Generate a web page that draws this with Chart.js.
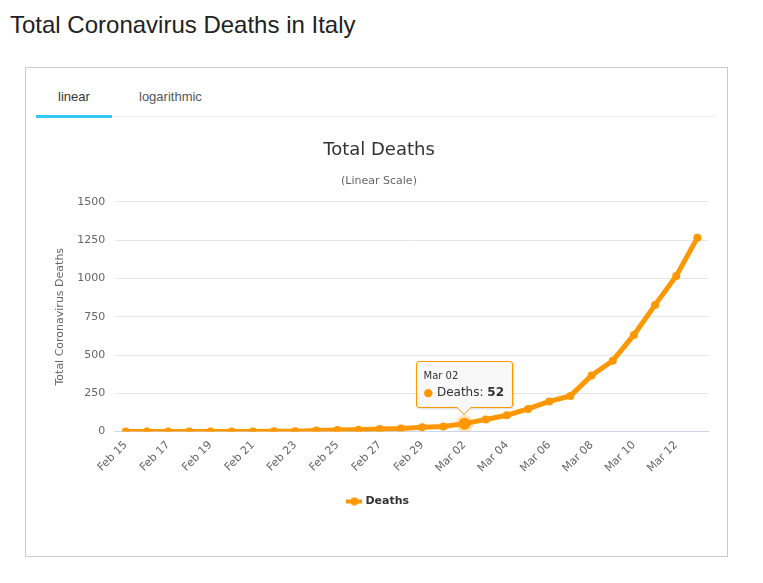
<!DOCTYPE html>
<html>
<head>
<meta charset="utf-8">
<script src="https://cdn.jsdelivr.net/npm/chart.js@4"></script>
<style>
  body { margin: 0; background: #fff; font-family: "Liberation Sans", Arial, sans-serif; }
  #pageTitle { position: absolute; left: 10px; top: 11px; font-size: 24px; line-height: 28px; color: #222; margin: 0; font-weight: normal; }
  #panel { position: absolute; left: 25px; top: 67px; width: 701px; height: 488px; border: 1px solid #ccc; }
  #tabs { position: absolute; left: 10px; top: 0; width: 680px; height: 48px; border-bottom: 1px solid #eee; }
  .tab { position: absolute; top: 21px; font-size: 13px; }
  #tabLinear { left: 0; width: 76px; text-align: center; color: #333; height: 26px; border-bottom: 3px solid #33c9f6; }
  #tabLog { left: 103px; color: #555; }
  #wrap { position: absolute; left: 36px; top: 125px; width: 680px; height: 405px; }
  #tip { position: absolute; pointer-events: none; background: rgba(247,247,247,0.92); border: 1px solid #ff9800;
         border-radius: 3px; padding: 8px 8px 8px 7px; font-family: "DejaVu Sans", sans-serif; color: #333;
         box-shadow: 1px 1px 2px rgba(0,0,0,0.15); white-space: nowrap; }
  #tip .t { font-size: 10px; margin-bottom: 4px; }
  #tip .b { font-size: 12px; }
  #tip .dot { color: #ff9800; font-size: 11px; }
  #tip:after, #tip:before { content: ""; position: absolute; left: 50%; border: solid transparent; }
  #tip:before { top: 100%; margin-left: -8px; border-width: 8px; border-top-color: #ff9800; }
  #tip:after { top: 100%; margin-left: -7px; border-width: 7px; border-top-color: #f7f7f7; }
</style>
</head>
<body>
<h1 id="pageTitle">Total Coronavirus Deaths in Italy</h1>
<div id="panel">
  <div id="tabs">
    <div class="tab" id="tabLinear">linear</div>
    <div class="tab" id="tabLog">logarithmic</div>
  </div>
</div>
<div id="wrap"><canvas id="myChart"></canvas><div id="tip" style="display:none"></div></div>
<script>
var dias = ['Feb 15','Feb 16','Feb 17','Feb 18','Feb 19','Feb 20','Feb 21','Feb 22','Feb 23','Feb 24',
            'Feb 25','Feb 26','Feb 27','Feb 28','Feb 29','Mar 01','Mar 02','Mar 03','Mar 04','Mar 05',
            'Mar 06','Mar 07','Mar 08','Mar 09','Mar 10','Mar 11','Mar 12','Mar 13']
var muertes = [0, 0, 0, 0, 0, 0, 1, 2, 3, 7, 10, 12, 17, 21, 29, 34, 52, 79, 107, 148, 197, 233, 366, 463, 631, 827, 1016, 1266]
var ticksY = [0, 250, 500, 750, 1000, 1250, 1500]
var puntoActivo = 16

var naranja = '#ff9800'
var fuente = '"DejaVu Sans", sans-serif'

// tooltip como html para poder poner el valor en negrita
const tooltipHtml = (context) => {
    var tip = document.getElementById('tip')
    var t = context.tooltip
    if (t.opacity === 0) { tip.style.display = 'none'; return }
    var p = t.dataPoints[0]
    tip.innerHTML = '<div class="t">' + p.label + '</div>' +
        '<div class="b"><span class="dot">\u25CF</span> Deaths: <b>' + p.raw + '</b></div>'
    tip.style.display = 'block'
    tip.style.left = (t.caretX - tip.offsetWidth / 2) + 'px'
    tip.style.top = (t.caretY - tip.offsetHeight - 16) + 'px'
}

// icono de la leyenda: linea con circulo
var icono = document.createElement('canvas')
icono.width = 16
icono.height = 10
var ic = icono.getContext('2d')
ic.fillStyle = naranja
ic.fillRect(0, 3, 16, 4)
ic.beginPath()
ic.arc(8, 5, 4, 0, Math.PI * 2)
ic.fill()

var ctx = document.getElementById('myChart')
var myChart = new Chart(ctx, {
    type: 'line',
    data: {
        labels: dias,
        datasets: [{
            label: 'Deaths',
            data: muertes,
            borderColor: naranja,
            backgroundColor: naranja,
            borderWidth: 5,
            pointRadius: 4,
            pointBackgroundColor: naranja,
            pointBorderWidth: 0,
            pointHoverRadius: 6,
            pointHoverBackgroundColor: naranja,
            pointHoverBorderColor: 'rgba(255,152,0,0.25)',
            pointHoverBorderWidth: 6,
            tension: 0
        }]
    },
    options: {
        responsive: true,
        maintainAspectRatio: false,
        animation: false,
        events: [],
        layout: { padding: { left: 14, right: 8, top: 0, bottom: 13 } },
        plugins: {
            title: {
                display: true, text: 'Total Deaths', color: '#333',
                font: { family: fuente, size: 18, weight: 'normal' },
                padding: { top: 15, bottom: 13 }
            },
            subtitle: {
                display: true, text: '(Linear Scale)', color: '#666',
                font: { family: fuente, size: 11 },
                padding: { bottom: 14 }
            },
            legend: {
                position: 'bottom',
                labels: {
                    color: '#333', usePointStyle: true, pointStyle: icono, padding: 14,
                    font: { family: fuente, size: 11, weight: 'bold' }
                }
            },
            tooltip: { enabled: false, external: tooltipHtml }
        },
        scales: {
            x: {
                offset: true,
                grid: { display: false, drawTicks: false },
                border: { color: '#ccd6eb' },
                ticks: {
                    autoSkip: false, maxRotation: 45, minRotation: 45, padding: 7,
                    color: '#666', font: { family: fuente, size: 11 },
                    callback: (v, i) => i % 2 === 0 ? dias[i] : ''
                }
            },
            y: {
                min: 0, max: 1500,
                afterBuildTicks: (axis) => { axis.ticks = ticksY.map(v => ({ value: v })) },
                grid: { color: '#e6e6e6', drawTicks: false },
                border: { display: false },
                ticks: { padding: 10, color: '#666', font: { family: fuente, size: 11 },
                         callback: (v) => String(v) },
                title: {
                    display: true, text: 'Total Coronavirus Deaths', color: '#666',
                    font: { family: fuente, size: 11 }, padding: { bottom: 0 }
                }
            }
        }
    }
})

var activos = [{ datasetIndex: 0, index: puntoActivo }]
myChart.setActiveElements(activos)
var pt = myChart.getDatasetMeta(0).data[puntoActivo]
myChart.tooltip.setActiveElements(activos, { x: pt.x, y: pt.y })
myChart.update()
</script>
</body>
</html>
